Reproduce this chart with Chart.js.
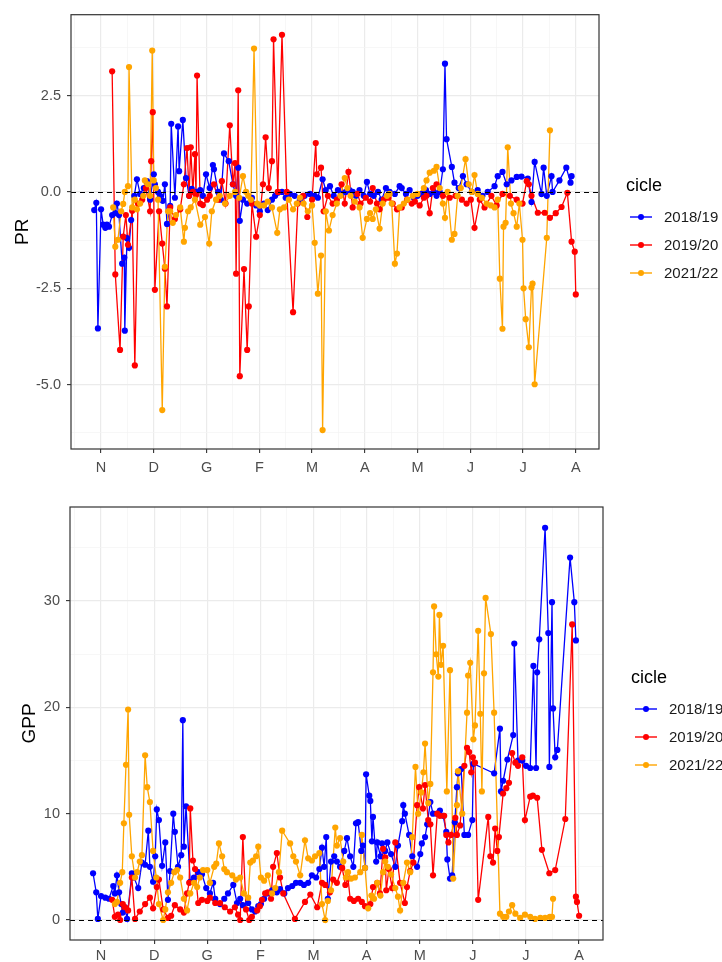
<!DOCTYPE html>
<html>
<head>
<meta charset="utf-8">
<title>PR / GPP per cicle</title>
<script src="https://cdn.jsdelivr.net/npm/chart.js@4.4.1/dist/chart.umd.min.js"></script>
<style>
  body { margin: 0; background: #fff; }
  .panel { position: absolute; left: 0; width: 722px; height: 481px; }
</style>
</head>
<body>
<div class="panel" style="top:0"><canvas id="prChart" width="722" height="481"></canvas></div>
<div class="panel" style="top:481px"><canvas id="gppChart" width="722" height="481"></canvas></div>
<script>
// months on the x axis (Nov -> Aug), position 1..10
const monthLabels = ['N', 'D', 'G', 'F', 'M', 'A', 'M', 'J', 'J', 'A'];
const cycleNames = ['2018/19', '2019/20', '2021/22'];
const cycleColors = ['#0000FF', '#FF0000', '#FFA500'];

const prTicks = [-5, -2.5, 0, 2.5];
const prMinor = [-6.25, -3.75, -1.25, 1.25, 3.75];
const gppTicks = [0, 10, 20, 30];
const gppMinor = [5, 15, 25, 35];

// ---- PR ----
const prX1819 = [0.87,0.91,0.94,1.00,1.04,1.08,1.11,1.15,1.21,1.27,1.30,1.34,1.40,1.44,1.45,1.49,1.53,1.57,1.63,1.68,
  1.74,1.81,1.87,1.93,2.00,2.02,2.08,2.12,2.17,2.21,2.25,2.31,2.33,2.40,2.46,2.48,2.55,2.61,2.67,2.72,
  2.80,2.88,2.93,2.99,3.06,3.12,3.14,3.22,3.27,3.33,3.42,3.50,3.56,3.60,3.63,3.69,3.77,3.86,3.94,4.01,
  4.09,4.16,4.24,4.30,4.35,4.43,4.50,4.58,4.67,4.77,4.86,4.96,5.05,5.11,5.20,5.26,5.34,5.41,5.49,5.56,
  5.64,5.71,5.77,5.83,5.90,5.98,6.04,6.10,6.17,6.25,6.32,6.40,6.47,6.57,6.66,6.70,6.78,6.85,6.93,7.00,
  7.08,7.16,7.23,7.31,7.36,7.42,7.48,7.52,7.55,7.65,7.70,7.78,7.86,7.93,8.03,8.14,8.23,8.33,8.46,8.52,
  8.61,8.69,8.78,8.88,8.97,9.09,9.16,9.22,9.35,9.39,9.45,9.54,9.56,9.69,9.82,9.90,9.92];
const pr1819 = [-0.47,-0.28,-3.54,-0.45,-0.85,-0.93,-0.85,-0.9,-0.6,-0.55,-0.3,-0.6,-1.86,-1.7,-3.6,-1.2,-1.45,-0.73,-0.1,0.33,
  -0.05,0.1,0.28,-0.2,0.46,0.2,0.0,-0.1,-0.23,0.2,-0.83,-0.36,1.77,-0.15,1.7,0.54,1.87,0.36,-0.1,0.08,
  0.0,0.05,-0.1,0.46,0.1,0.7,0.59,0.0,-0.2,1.0,0.8,0.2,-0.1,0.63,-0.75,-0.2,-0.3,-0.15,-0.35,-0.5,
  -0.3,-0.47,-0.2,-0.1,-0.02,0.0,-0.15,-0.05,-0.1,-0.2,-0.1,-0.05,-0.1,-0.15,0.33,0.05,0.15,-0.1,0.05,-0.05,
  0.0,0.05,0.0,-0.1,0.05,-0.1,0.26,-0.05,-0.1,0.0,-0.2,0.1,0.0,-0.05,0.15,0.1,-0.05,0.05,-0.15,-0.1,
  -0.05,0.05,-0.05,0.0,-0.1,0.0,0.59,3.33,1.37,0.65,0.24,0.1,0.41,0.2,0.0,0.05,-0.1,0.0,0.15,0.41,
  0.52,0.2,0.3,0.39,0.4,0.35,-0.26,0.78,-0.05,0.63,-0.1,0.41,0.0,0.3,0.63,0.24,0.41];

const prX1920 = [1.21,1.27,1.36,1.42,1.47,1.51,1.59,1.64,1.70,1.78,1.85,1.93,1.95,1.98,2.02,2.10,2.16,2.21,2.25,2.31,
  2.40,2.50,2.57,2.63,2.67,2.70,2.74,2.78,2.80,2.82,2.88,2.93,3.01,3.06,3.14,3.22,3.29,3.36,3.44,3.50,
  3.54,3.56,3.60,3.63,3.71,3.77,3.80,3.86,3.94,4.01,4.07,4.12,4.18,4.24,4.27,4.35,4.43,4.52,4.64,4.73,
  4.83,4.91,5.00,5.07,5.09,5.17,5.22,5.30,5.39,5.47,5.56,5.62,5.69,5.77,5.86,5.92,6.02,6.10,6.15,6.23,
  6.28,6.36,6.45,6.53,6.61,6.70,6.80,6.89,6.95,7.04,7.12,7.17,7.23,7.29,7.36,7.48,7.61,7.72,7.84,7.93,
  8.01,8.08,8.18,8.27,8.40,8.50,8.61,8.75,8.88,8.99,9.07,9.11,9.16,9.28,9.41,9.51,9.62,9.73,9.84,9.92,
  9.98,10.00];
const pr1920 = [3.13,-2.14,-4.1,-1.16,-0.6,-1.37,-0.49,-4.5,-0.3,-0.2,0.1,-0.5,0.8,2.07,-2.54,-0.5,-1.34,-1.99,-2.97,-0.4,
  -0.7,-0.45,0.2,1.14,-0.1,1.16,0.0,0.98,-0.08,3.02,-0.3,-0.34,-0.2,-0.1,0.2,-0.2,0.28,-0.3,1.73,0.2,
  0.75,-2.12,2.64,-4.78,-2.0,-4.1,-2.97,-0.3,-1.16,-0.6,0.2,1.42,0.1,0.8,3.96,0.0,4.08,0.0,-3.12,-0.3,
  -0.1,-0.65,-0.2,1.27,0.46,0.63,-0.5,-0.1,-0.3,-0.2,0.2,-0.3,0.52,-0.4,-0.05,-0.3,-0.15,-0.25,0.1,-0.3,
  -0.45,-0.2,-0.15,-0.3,-0.45,-0.4,-0.2,-0.3,-0.25,-0.35,-0.15,-0.1,-0.55,0.1,0.2,-0.1,-0.15,-0.1,-0.2,-0.3,
  -0.2,-0.93,-0.2,-0.4,-0.1,-0.35,-0.05,-0.1,-0.2,-0.3,0.28,0.2,-0.1,-0.54,-0.54,-0.67,-0.55,-0.39,-0.02,-1.29,
  -1.55,-2.66];

const prX2122 = [1.23,1.27,1.32,1.38,1.42,1.45,1.51,1.53,1.59,1.64,1.68,1.74,1.80,1.83,1.89,1.93,1.97,2.00,2.04,2.08,
  2.16,2.21,2.27,2.31,2.36,2.42,2.50,2.57,2.59,2.65,2.70,2.78,2.88,2.97,3.05,3.10,3.18,3.25,3.35,3.44,
  3.54,3.62,3.69,3.75,3.79,3.84,3.90,3.96,4.01,4.09,4.16,4.24,4.34,4.39,4.47,4.56,4.64,4.71,4.77,4.84,
  4.92,5.00,5.05,5.11,5.17,5.20,5.26,5.32,5.39,5.47,5.54,5.62,5.67,5.73,5.81,5.90,5.96,6.04,6.10,6.15,
  6.21,6.28,6.34,6.42,6.47,6.51,6.57,6.61,6.66,6.74,6.81,6.91,7.00,7.12,7.17,7.23,7.31,7.36,7.42,7.48,
  7.52,7.57,7.65,7.70,7.76,7.82,7.91,7.97,8.03,8.08,8.14,8.22,8.31,8.39,8.46,8.52,8.56,8.61,8.63,8.67,
  8.71,8.77,8.82,8.88,8.93,8.99,9.01,9.05,9.11,9.16,9.18,9.22,9.45,9.51];
const pr2122 = [-0.4,-1.42,-1.24,-0.5,-0.31,0.0,0.15,3.24,-0.4,-0.2,-0.45,-0.3,-0.1,0.3,0.2,-0.1,3.67,0.3,0.1,-0.2,
  -5.66,-1.94,-0.5,-0.5,-0.8,-0.6,-0.4,-1.29,-0.93,-0.5,-0.4,-0.2,-0.85,-0.65,-1.34,-0.5,-0.2,-0.1,-0.3,-0.1,
  0.0,-0.15,0.41,0.0,-0.1,-0.2,3.72,-0.3,-0.35,-0.35,-0.25,-0.4,-1.06,-0.45,-0.4,-0.2,-0.45,-0.3,-0.15,-0.3,
  -0.5,-0.35,-1.32,-2.64,-1.65,-6.18,-0.5,-1.0,-0.6,-0.3,-0.1,0.36,0.1,-0.1,-0.25,-0.4,-1.19,-0.7,-0.55,-0.7,
  -0.45,-0.95,-0.3,-0.1,-0.05,-0.3,-1.86,-1.6,-0.4,-0.3,-0.2,-0.1,-0.05,0.1,0.3,0.5,0.55,0.65,0.1,-0.3,
  -0.67,0.0,-1.24,-1.09,-0.1,0.1,0.85,0.2,0.0,0.44,-0.05,-0.15,-0.3,-0.35,-0.4,-0.2,-2.25,-3.55,-0.9,-0.8,
  1.16,-0.3,-0.55,-0.9,-0.3,-1.24,-2.5,-3.3,-4.03,-2.48,-2.38,-4.99,-1.19,1.6];

// ---- GPP ----
const gppX1819 = [0.85,0.91,0.94,1.00,1.08,1.15,1.23,1.26,1.30,1.34,1.38,1.41,1.45,1.49,1.58,1.62,1.70,1.77,1.83,1.89,
  1.92,1.98,2.02,2.05,2.09,2.15,2.21,2.26,2.30,2.36,2.39,2.45,2.51,2.54,2.56,2.60,2.68,2.75,2.83,2.90,
  2.98,3.05,3.11,3.15,3.24,3.32,3.39,3.49,3.56,3.62,3.67,3.77,3.84,3.90,3.96,4.01,4.07,4.14,4.22,4.31,
  4.37,4.45,4.52,4.60,4.67,4.75,4.82,4.90,4.97,5.05,5.11,5.16,5.20,5.24,5.27,5.33,5.39,5.44,5.50,5.58,
  5.63,5.69,5.75,5.80,5.84,5.90,5.93,5.97,5.99,6.05,6.07,6.10,6.12,6.18,6.20,6.26,6.29,6.35,6.39,6.46,
  6.54,6.59,6.67,6.69,6.72,6.80,6.86,6.95,7.01,7.04,7.10,7.14,7.20,7.25,7.33,7.38,7.44,7.50,7.52,7.57,
  7.61,7.66,7.70,7.72,7.78,7.84,7.91,7.99,8.01,8.40,8.51,8.53,8.57,8.65,8.76,8.78,8.85,8.93,9.00,9.08,
  9.14,9.19,9.21,9.25,9.36,9.42,9.44,9.49,9.51,9.55,9.59,9.83,9.91,9.94];
const gpp1819 = [4.4,2.6,0.1,2.25,2.1,2.0,3.2,2.5,4.2,2.6,1.5,0.7,1.2,0.1,4.4,4.0,3.0,5.4,5.2,8.4,
  5.0,3.6,6.0,10.4,9.4,5.1,7.3,1.9,4.6,10.0,8.3,5.0,6.1,18.8,6.9,10.7,3.6,4.0,4.5,4.3,
  3.0,2.5,3.5,2.0,1.5,2.0,2.5,3.3,1.6,2.0,1.4,1.6,1.0,0.8,1.3,1.5,2.0,2.5,2.8,2.6,
  2.9,2.5,3.0,3.2,3.5,3.5,3.3,3.5,4.2,4.0,4.8,6.8,5.0,7.8,2.0,5.5,6.0,5.5,5.0,6.5,
  7.7,6.0,5.0,9.1,9.2,6.5,7.0,4.9,13.7,11.7,11.2,7.4,9.7,5.5,7.3,6.0,7.2,6.5,7.3,6.2,
  5.0,7.0,9.3,10.8,10.0,8.0,6.0,5.0,6.2,7.2,7.8,9.0,11.1,10.0,10.0,10.3,9.8,8.3,5.7,3.9,
  4.2,9.2,12.5,13.8,14.2,8.0,8.0,9.4,14.7,13.8,18.0,12.1,13.1,15.1,17.4,26.0,15.0,15.0,14.5,14.3,
  23.9,14.3,23.3,26.4,36.9,27.0,14.4,29.9,19.9,15.3,16.0,34.1,29.9,26.3];

const gppX1920 = [1.21,1.26,1.32,1.36,1.41,1.45,1.51,1.58,1.64,1.73,1.83,1.92,1.98,2.05,2.09,2.17,2.26,2.32,2.39,2.49,
  2.56,2.62,2.66,2.68,2.73,2.77,2.83,2.90,3.00,3.05,3.15,3.24,3.33,3.43,3.52,3.58,3.62,3.67,3.73,3.79,
  3.84,3.94,3.99,4.03,4.09,4.14,4.20,4.24,4.31,4.37,4.43,4.65,4.84,4.94,5.07,5.16,5.22,5.31,5.37,5.44,
  5.54,5.60,5.65,5.69,5.76,5.84,5.91,5.97,6.07,6.12,6.20,6.25,6.31,6.35,6.37,6.42,6.48,6.54,6.63,6.72,
  6.76,6.82,6.88,6.95,6.99,7.06,7.10,7.16,7.20,7.25,7.33,7.38,7.46,7.50,7.54,7.59,7.67,7.70,7.76,7.84,
  7.89,7.93,7.97,8.00,8.04,8.10,8.29,8.33,8.38,8.42,8.46,8.49,8.57,8.63,8.68,8.74,8.80,8.85,8.93,8.98,
  9.08,9.13,9.21,9.30,9.44,9.55,9.74,9.87,9.94,9.96,10.00];
const gpp1920 = [1.9,0.3,0.5,0.0,1.5,1.2,0.9,4.0,0.1,0.8,1.5,2.1,1.1,3.1,3.8,1.0,0.2,0.4,1.4,1.0,
  0.7,2.5,3.5,10.5,5.6,4.8,1.6,1.9,1.8,2.1,1.6,1.6,1.2,0.8,1.2,0.5,0.0,7.8,1.0,0.0,
  0.3,0.9,1.3,1.9,2.5,2.6,2.0,5.0,6.3,4.0,2.5,0.1,1.7,2.4,1.2,3.5,3.3,2.6,3.8,3.5,
  4.9,3.3,3.9,2.0,1.8,2.0,1.7,1.3,1.5,3.1,3.5,2.5,6.7,5.9,2.8,4.8,3.0,7.3,3.5,1.6,
  3.1,4.6,5.4,10.8,12.5,10.5,12.7,9.4,9.0,4.2,10.0,9.8,9.8,8.0,7.3,8.0,9.6,8.0,8.9,14.5,
  16.2,15.8,13.9,15.3,14.8,1.9,9.7,6.0,5.4,8.6,6.5,7.8,11.9,12.4,12.9,15.7,14.8,14.5,15.3,9.4,
  11.6,11.7,11.5,6.6,4.4,4.7,9.5,27.8,2.2,1.7,0.4];

const gppX2122 = [1.26,1.30,1.36,1.40,1.43,1.47,1.51,1.53,1.58,1.64,1.68,1.73,1.77,1.83,1.87,1.92,1.98,2.04,2.09,2.17,
  2.21,2.26,2.32,2.38,2.43,2.49,2.56,2.62,2.68,2.75,2.81,2.86,2.92,3.00,3.05,3.13,3.17,3.22,3.28,3.32,
  3.37,3.47,3.54,3.62,3.69,3.77,3.81,3.86,3.92,3.96,4.01,4.07,4.14,4.22,4.28,4.35,4.41,4.56,4.62,4.67,
  4.75,4.84,4.90,4.97,5.03,5.11,5.16,5.22,5.27,5.33,5.41,5.44,5.50,5.56,5.61,5.65,5.71,5.78,5.88,5.91,
  5.97,6.03,6.09,6.14,6.20,6.26,6.31,6.35,6.40,6.46,6.54,6.59,6.63,6.69,6.76,6.82,6.86,6.92,6.97,7.03,
  7.07,7.10,7.16,7.20,7.25,7.27,7.31,7.35,7.37,7.40,7.44,7.51,7.57,7.63,7.70,7.72,7.80,7.89,7.91,7.95,
  8.01,8.04,8.10,8.14,8.17,8.21,8.24,8.34,8.40,8.51,8.57,8.63,8.68,8.74,8.80,8.89,8.98,9.08,9.17,9.27,
  9.36,9.45,9.49,9.51];
const gpp2122 = [1.5,1.7,3.5,4.5,9.1,14.6,19.8,9.9,6.0,4.0,4.5,5.5,6.1,15.5,12.5,11.1,6.5,4.0,1.5,0.0,
  1.0,2.6,3.5,4.5,4.7,4.0,2.0,0.9,2.5,3.5,3.1,4.0,4.7,4.7,3.5,5.0,5.3,7.2,6.0,4.8,
  4.5,4.2,3.8,4.0,2.5,2.1,5.4,5.6,6.0,6.9,4.0,3.7,4.2,2.5,3.0,4.5,8.4,7.2,6.0,5.5,
  4.2,7.5,5.8,5.6,6.0,6.3,1.5,0.0,1.8,2.8,8.7,7.0,7.7,5.5,4.0,4.5,3.9,4.0,4.5,8.0,
  4.9,1.1,2.3,2.0,3.5,2.3,4.5,5.5,5.0,4.3,3.0,2.2,0.9,3.5,5.4,4.5,7.8,14.4,10.0,12.0,
  13.9,16.6,11.0,12.8,23.3,29.5,25.0,22.9,28.7,24.0,25.8,12.1,23.5,3.9,10.8,14.0,10.0,19.5,23.0,24.2,
  17.0,18.3,27.2,19.4,12.1,23.2,30.3,26.9,19.5,0.6,0.3,0.3,0.8,1.4,0.6,0.2,0.5,0.3,0.1,0.2,
  0.2,0.3,0.3,2.0];

const xMajor = [1, 2, 3, 4, 5, 6, 7, 8, 9, 10];
const xMinor = [0.5, 1.5, 2.5, 3.5, 4.5, 5.5, 6.5, 7.5, 8.5, 9.5];

const FONT = '"Liberation Sans", Arial, sans-serif';

function toPoints(xs, ys) {
  return xs.map((x, i) => ({ x: x, y: ys[i] }));
}

function isIn(list, v) {
  return list.some(m => Math.abs(m - v) < 1e-6);
}

// dashed zero line, panel border, y title and the ggplot-like legend
const panelDecor = {
  id: 'panelDecor',
  afterDatasetsDraw(chart) {
    const { ctx, chartArea: a } = chart;
    const y0 = Math.round(chart.scales.y.getPixelForValue(0)) + 0.5;
    ctx.save();
    ctx.strokeStyle = '#000';
    ctx.lineWidth = 1.1;
    ctx.setLineDash([5, 4]);
    ctx.beginPath();
    ctx.moveTo(a.left, y0);
    ctx.lineTo(a.right, y0);
    ctx.stroke();
    ctx.setLineDash([]);
    ctx.strokeStyle = '#333333';
    ctx.lineWidth = 1.2;
    ctx.strokeRect(a.left, a.top, a.right - a.left, a.bottom - a.top);
    ctx.restore();
  },
  afterDraw(chart, args, o) {
    const { ctx, chartArea: a } = chart;
    ctx.save();
    ctx.fillStyle = '#000';
    ctx.font = '19px ' + FONT;
    ctx.textAlign = 'center';
    ctx.textBaseline = 'middle';
    ctx.translate(o.titleX, (a.top + a.bottom) / 2);
    ctx.rotate(-Math.PI / 2);
    ctx.fillText(o.title, 0, 0);
    ctx.restore();

    ctx.save();
    ctx.textAlign = 'left';
    ctx.textBaseline = 'middle';
    ctx.fillStyle = '#000';
    ctx.font = '18px ' + FONT;
    ctx.fillText('cicle', o.legendX, o.legendY);
    ctx.font = '15px ' + FONT;
    cycleNames.forEach((name, i) => {
      const y = o.legendY + 31 + i * 28;
      ctx.strokeStyle = cycleColors[i];
      ctx.lineWidth = 1.4;
      ctx.beginPath();
      ctx.moveTo(o.legendX + 4, y);
      ctx.lineTo(o.legendX + 26, y);
      ctx.stroke();
      ctx.fillStyle = cycleColors[i];
      ctx.beginPath();
      ctx.arc(o.legendX + 15, y, 3, 0, Math.PI * 2);
      ctx.fill();
      ctx.fillStyle = '#1a1a1a';
      ctx.fillText(name, o.legendX + 38, y + 1);
    });
    ctx.restore();
  }
};

function makeChart(canvasId, series, cfg) {
  const datasets = [];
  series.forEach((s, i) => {
    datasets.push({
      type: 'scatter',
      data: toPoints(s[0], s[1]),
      showLine: true,
      borderColor: cycleColors[i],
      borderWidth: 1.3,
      tension: 0,
      pointRadius: 0,
      order: 6 - i
    });
  });
  series.forEach((s, i) => {
    datasets.push({
      type: 'scatter',
      data: toPoints(s[0], s[1]),
      showLine: false,
      pointRadius: 3.1,
      pointBorderWidth: 0,
      pointBackgroundColor: cycleColors[i],
      order: 3 - i
    });
  });

  const yAll = cfg.yMajor.concat(cfg.yMinor).sort((p, q) => p - q);
  const xAll = xMajor.concat(xMinor).sort((p, q) => p - q);

  return new Chart(document.getElementById(canvasId), {
    type: 'scatter',
    data: { datasets: datasets },
    options: {
      responsive: false,
      animation: false,
      events: [],
      layout: { padding: cfg.padding },
      plugins: {
        legend: { display: false },
        tooltip: { enabled: false },
        panelDecor: cfg.decor
      },
      scales: {
        x: {
          type: 'linear',
          min: cfg.xMin,
          max: cfg.xMax,
          afterBuildTicks: s => { s.ticks = xAll.map(v => ({ value: v })); },
          afterFit: s => { s.height = cfg.xAxisH; },
          border: { display: false },
          grid: {
            color: c => isIn(xMajor, c.tick.value) ? '#EBEBEB' : '#F3F3F3',
            lineWidth: c => isIn(xMajor, c.tick.value) ? 1.2 : 0.7,
            tickColor: c => isIn(xMajor, c.tick.value) ? '#333333' : 'rgba(0,0,0,0)',
            tickLength: 4,
            tickWidth: 1.1
          },
          ticks: {
            autoSkip: false,
            maxRotation: 0,
            padding: cfg.xPad,
            color: '#4D4D4D',
            font: { family: FONT, size: 14.5 },
            callback: v => {
              const k = Math.round(v);
              return Math.abs(v - k) < 1e-6 ? monthLabels[k - 1] : '';
            }
          }
        },
        y: {
          type: 'linear',
          min: cfg.yMin,
          max: cfg.yMax,
          afterBuildTicks: s => { s.ticks = yAll.map(v => ({ value: v })); },
          afterFit: s => { s.width = cfg.yAxisW; },
          border: { display: false },
          grid: {
            color: c => isIn(cfg.yMajor, c.tick.value) ? '#EBEBEB' : '#F3F3F3',
            lineWidth: c => isIn(cfg.yMajor, c.tick.value) ? 1.2 : 0.7,
            tickColor: c => isIn(cfg.yMajor, c.tick.value) ? '#333333' : 'rgba(0,0,0,0)',
            tickLength: 4,
            tickWidth: 1.1
          },
          ticks: {
            autoSkip: false,
            padding: 6,
            color: '#4D4D4D',
            font: { family: FONT, size: 14.5 },
            callback: v => isIn(cfg.yMajor, v) ? cfg.fmt(v) : ''
          }
        }
      }
    },
    plugins: [panelDecor]
  });
}

makeChart('prChart', [[prX1819, pr1819], [prX1920, pr1920], [prX2122, pr2122]], {
  yMajor: prTicks, yMinor: prMinor, yMin: -6.67, yMax: 4.6,
  xMin: 0.43, xMax: 10.44,
  fmt: v => v.toFixed(1),
  padding: { left: 0, right: 123, top: 13, bottom: 0 },
  xAxisH: 32, yAxisW: 71, xPad: 6,
  decor: { title: 'PR', titleX: 23, legendX: 626, legendY: 186 }
});

makeChart('gppChart', [[gppX1819, gpp1819], [gppX1920, gpp1920], [gppX2122, gpp2122]], {
  yMajor: gppTicks, yMinor: gppMinor, yMin: -1.88, yMax: 38.85,
  xMin: 0.416, xMax: 10.45,
  fmt: v => String(v),
  padding: { left: 0, right: 119, top: 26, bottom: 0 },
  xAxisH: 22, yAxisW: 70, xPad: 3,
  decor: { title: 'GPP', titleX: 30, legendX: 631, legendY: 197 }
});
</script>
</body>
</html>
